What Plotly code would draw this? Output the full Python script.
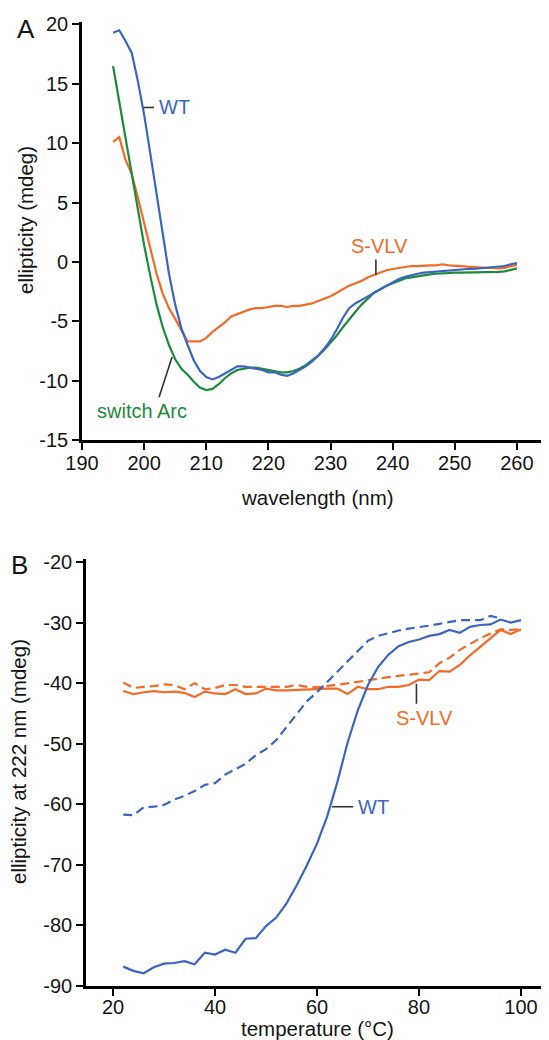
import plotly.graph_objects as go

W, H = 549, 1040
OFF = 8  # browser default body margin

# ---------------- Panel A data (CD spectra) ----------------
wavelength = list(range(195, 261))
wt_spec = [19.3, 19.5, 18.6, 17.6, 15.2, 12.4, 9.1, 5.8, 2.3, -1.0,
           -3.6, -5.6, -7.0, -8.3, -9.2, -9.7, -9.9, -9.7, -9.4, -9.1,
           -8.8, -8.8, -8.9, -9.0, -9.1, -9.3, -9.3, -9.5, -9.6, -9.4,
           -9.1, -8.8, -8.4, -7.9, -7.3, -6.6, -5.7, -4.7, -3.9, -3.5,
           -3.2, -2.9, -2.6, -2.3, -2.0, -1.7, -1.45, -1.25, -1.1, -1.0,
           -0.9, -0.85, -0.8, -0.75, -0.7, -0.7, -0.65, -0.6, -0.6, -0.55,
           -0.55, -0.5, -0.45, -0.35, -0.2, -0.1]
switch_spec = [16.5, 13.5, 10.4, 7.4, 4.4, 1.4, -1.2, -3.6, -5.5, -7.0,
               -8.2, -9.0, -9.5, -10.1, -10.6, -10.8, -10.7, -10.3, -9.8, -9.4,
               -9.1, -9.0, -8.9, -8.9, -9.0, -9.1, -9.2, -9.3, -9.3, -9.2,
               -9.0, -8.7, -8.3, -7.9, -7.4, -6.8, -6.2, -5.5, -4.8, -4.2,
               -3.6, -3.1, -2.6, -2.3, -2.0, -1.8, -1.6, -1.4, -1.3, -1.2,
               -1.1, -1.05, -1.0, -0.95, -0.95, -0.9, -0.9, -0.9, -0.9, -0.9,
               -0.9, -0.85, -0.85, -0.8, -0.7, -0.55]
svlv_spec = [10.1, 10.5, 8.6, 7.4, 5.4, 3.2, 1.0, -1.0, -2.7, -3.9,
             -4.8, -5.8, -6.7, -6.7, -6.7, -6.4, -5.9, -5.5, -5.1, -4.6,
             -4.4, -4.2, -4.0, -3.9, -3.9, -3.8, -3.7, -3.7, -3.8, -3.7,
             -3.7, -3.6, -3.5, -3.3, -3.1, -2.9, -2.6, -2.3, -2.0, -1.8,
             -1.6, -1.3, -1.1, -0.9, -0.7, -0.6, -0.5, -0.4, -0.35, -0.35,
             -0.3, -0.3, -0.3, -0.2, -0.3, -0.3, -0.35, -0.4, -0.45, -0.45,
             -0.5, -0.5, -0.55, -0.5, -0.4, -0.25]

# ---------------- Panel B data (thermal melts) ----------------
temperature = list(range(22, 101, 2))
wt_melt = [-86.8, -87.5, -87.9, -86.9, -86.3, -86.2, -85.9, -86.4, -84.5, -84.8,
           -84.0, -84.5, -82.2, -82.1, -80.1, -78.7, -76.4, -73.4, -70.1, -66.5,
           -62.0, -56.3, -49.8, -44.5, -40.3, -37.3, -35.3, -33.9, -33.2, -32.8,
           -32.2, -31.9, -31.2, -31.7, -30.7, -30.4, -30.3, -29.5, -30.0, -29.6]
wt_cool_temp = list(range(22, 97, 2))
wt_cool = [-61.7, -61.8, -60.5, -60.4, -60.1, -59.2, -58.6, -57.8, -56.8, -56.5,
           -55.1, -54.2, -53.3, -51.9, -50.9, -49.4, -47.3, -45.2, -43.0, -41.5,
           -39.8, -38.0, -36.3, -34.6, -33.0, -32.2, -31.7, -31.3, -31.0, -30.8,
           -30.5, -30.2, -29.9, -29.6, -29.6, -29.6, -28.9, -29.3]
svlv_melt = [-41.3, -41.8, -41.5, -41.3, -41.5, -41.4, -41.6, -42.3, -41.4, -41.7,
             -41.8, -41.0, -41.8, -41.7, -40.9, -41.2, -41.2, -41.1, -41.0, -41.0,
             -40.9, -40.9, -41.8, -40.6, -41.0, -41.0, -40.6, -40.6, -40.3, -39.4,
             -39.5, -38.0, -38.1, -37.0, -35.4, -34.0, -32.6, -31.2, -31.9, -31.1]
svlv_cool = [-39.9, -40.8, -40.6, -40.5, -40.2, -40.3, -41.0, -40.0, -41.0, -40.8,
             -40.3, -40.3, -40.6, -40.6, -40.6, -40.6, -40.6, -40.3, -40.6, -40.7,
             -40.5, -40.3, -40.0, -39.8, -39.5, -39.2, -39.0, -38.8, -38.6, -38.5,
             -38.2, -36.7, -35.8, -34.5, -33.5, -32.6, -31.8, -31.1, -31.2, -31.1]

ticks_a_x = [190, 200, 210, 220, 230, 240, 250, 260]
ticks_a_y = [-15, -10, -5, 0, 5, 10, 15, 20]
ticks_b_x = [20, 40, 60, 80, 100]
ticks_b_y = [-90, -80, -70, -60, -50, -40, -30, -20]

BLUE = "#3A66C2"
ORANGE = "#F26A26"
GREEN = "#1E8A3B"
FONT = "Liberation Sans, Arial, Helvetica, sans-serif"
TXT = "#151515"

fig = go.Figure()
lw = 2.2
fig.add_trace(go.Scatter(x=wavelength, y=svlv_spec, mode="lines", line=dict(color=ORANGE, width=lw), xaxis="x", yaxis="y"))
fig.add_trace(go.Scatter(x=wavelength, y=switch_spec, mode="lines", line=dict(color=GREEN, width=lw), xaxis="x", yaxis="y"))
fig.add_trace(go.Scatter(x=wavelength, y=wt_spec, mode="lines", line=dict(color=BLUE, width=lw), xaxis="x", yaxis="y"))

dash = "9px,5px"
fig.add_trace(go.Scatter(x=temperature, y=svlv_cool, mode="lines", line=dict(color=ORANGE, width=lw, dash=dash), xaxis="x2", yaxis="y2"))
fig.add_trace(go.Scatter(x=temperature, y=svlv_melt, mode="lines", line=dict(color=ORANGE, width=lw), xaxis="x2", yaxis="y2"))
fig.add_trace(go.Scatter(x=wt_cool_temp, y=wt_cool, mode="lines", line=dict(color=BLUE, width=lw, dash=dash), xaxis="x2", yaxis="y2"))
fig.add_trace(go.Scatter(x=temperature, y=wt_melt, mode="lines", line=dict(color=BLUE, width=lw), xaxis="x2", yaxis="y2"))


def px_x(p):
    return (p - OFF) / W


def px_y(p):
    return 1 - (p - OFF) / H


axis_common = dict(showgrid=False, zeroline=False, showline=True, linecolor="black", linewidth=2.6,
                   ticks="outside", ticklen=7, tickwidth=1.6, tickcolor="black",
                   tickfont=dict(family=FONT, size=20, color=TXT), automargin=False, mirror=False)

fig.update_layout(
    width=W, height=H, margin=dict(l=0, r=0, t=0, b=0),
    paper_bgcolor="white", plot_bgcolor="white", showlegend=False,
    xaxis=dict(axis_common, domain=[px_x(82), px_x(548)], range=[190, 265], ticklabelstandoff=-4,
               tickvals=ticks_a_x, ticktext=[str(v) for v in ticks_a_x], anchor="y"),
    yaxis=dict(axis_common, domain=[px_y(440), px_y(22)], range=[-15, 20.2],
               tickvals=ticks_a_y, ticktext=[str(v) for v in ticks_a_y], anchor="x"),
    xaxis2=dict(axis_common, domain=[px_x(86), px_x(548)], range=[14.7, 105.3], ticklabelstandoff=-6,
                tickvals=ticks_b_x, ticktext=[str(v) for v in ticks_b_x], anchor="y2"),
    yaxis2=dict(axis_common, domain=[px_y(986), px_y(559)], range=[-90, -19.5],
                tickvals=ticks_b_y, ticktext=[str(v) for v in ticks_b_y], anchor="x2"),
)

ann_font = dict(family=FONT, size=20)


def paper_text(text, x, y, size=20.5, angle=0):
    return dict(text=text, x=px_x(x), y=px_y(y), xref="paper", yref="paper",
                xanchor="center", yanchor="middle", textangle=angle, showarrow=False,
                font=dict(family=FONT, size=size, color=TXT))


annotations = [
    paper_text("A", 26, 29, size=26),
    paper_text("B", 19, 565, size=26),
    paper_text("ellipticity (mdeg)", 26, 220, angle=-90),
    paper_text("wavelength (nm)", 317, 497),
    paper_text("ellipticity at 222 nm (mdeg)", 18, 762, angle=-90),
    paper_text("temperature (°C)", 317, 1028),
    dict(text="WT", x=202.1, y=13.0, xref="x", yref="y", xanchor="left", yanchor="middle", showarrow=False, font=dict(ann_font, color=BLUE)),
    dict(text="S-VLV", x=237.9, y=1.3, xref="x", yref="y", xanchor="center", yanchor="middle", showarrow=False, font=dict(ann_font, color=ORANGE)),
    dict(text="switch Arc", x=199.7, y=-12.6, xref="x", yref="y", xanchor="center", yanchor="middle", showarrow=False, font=dict(ann_font, color=GREEN)),
    dict(text="WT", x=67.7, y=-60.4, xref="x2", yref="y2", xanchor="left", yanchor="middle", showarrow=False, font=dict(ann_font, color=BLUE)),
    dict(text="S-VLV", x=81.0, y=-45.7, xref="x2", yref="y2", xanchor="center", yanchor="middle", showarrow=False, font=dict(ann_font, color=ORANGE)),
]
fig.update_layout(annotations=annotations)

leader = dict(color="#333333", width=1.6)
shapes = [
    dict(type="line", xref="x", yref="y", x0=199.9, y0=13.0, x1=201.6, y1=13.0, line=leader),
    dict(type="line", xref="x", yref="y", x0=237.3, y0=0.2, x1=237.3, y1=-1.1, line=leader),
    dict(type="line", xref="x", yref="y", x0=204.5, y0=-8.0, x1=202.4, y1=-11.4, line=leader),
    dict(type="line", xref="x2", yref="y2", x0=62.9, y0=-60.4, x1=67.1, y1=-60.4, line=leader),
    dict(type="line", xref="x2", yref="y2", x0=79.5, y0=-40.1, x1=79.5, y1=-43.4, line=leader),
]
fig.update_layout(shapes=shapes)

fig.write_html("out.html")
